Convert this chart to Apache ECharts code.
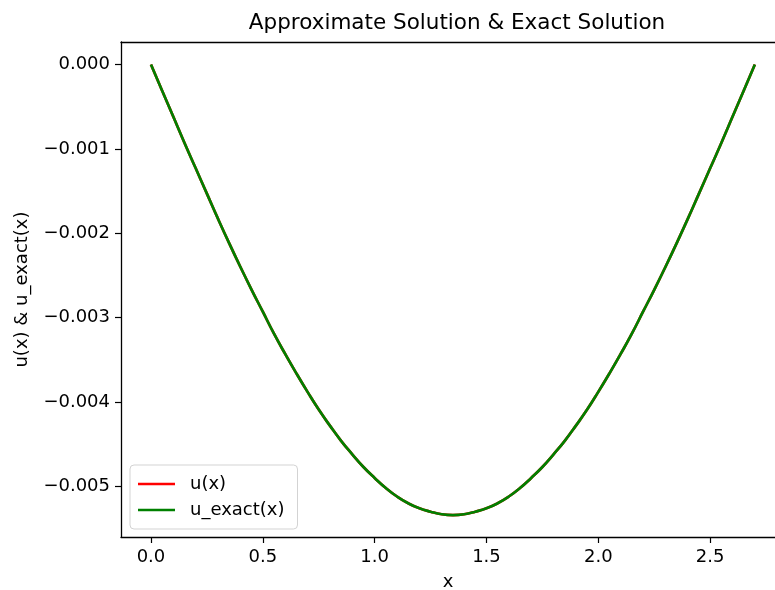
<!DOCTYPE html>
<html>
<head>
<meta charset="utf-8">
<script src="https://cdn.jsdelivr.net/npm/echarts@6/dist/echarts.min.js"></script>
<style>html,body{margin:0;padding:0;background:#fff;}#c{width:775px;height:590px;}</style>
</head>
<body>
<div id="c"></div>
<script>
var xs = [0.0,0.05,0.1,0.15,0.2,0.25,0.3,0.35,0.4,0.45,0.5,0.55,0.6,0.65,0.7,0.75,0.8,0.85,0.9,0.95,1.0,1.05,1.1,1.15,1.2,1.25,1.3,1.35,1.4,1.45,1.5,1.55,1.6,1.65,1.7,1.75,1.8,1.85,1.9,1.95,2.0,2.05,2.1,2.15,2.2,2.25,2.3,2.35,2.4,2.45,2.5,2.55,2.6,2.65,2.7];
var uApprox = [0,-0.00031,-0.00062,-0.00093,-0.00123,-0.00153,-0.00183,-0.00212,-0.00240,-0.00267,-0.00293,-0.00319,-0.00343,-0.00366,-0.00388,-0.00409,-0.00428,-0.00446,-0.00462,-0.00477,-0.00490,-0.00502,-0.00512,-0.00520,-0.00526,-0.00530,-0.00533,-0.00534,-0.00533,-0.00530,-0.00526,-0.00520,-0.00512,-0.00502,-0.00490,-0.00477,-0.00462,-0.00446,-0.00428,-0.00409,-0.00388,-0.00366,-0.00343,-0.00319,-0.00293,-0.00267,-0.00240,-0.00212,-0.00183,-0.00153,-0.00123,-0.00093,-0.00062,-0.00031,0];
var uExact = [0,-0.00031,-0.00062,-0.00093,-0.00123,-0.00153,-0.00183,-0.00212,-0.00240,-0.00267,-0.00293,-0.00319,-0.00343,-0.00366,-0.00388,-0.00409,-0.00428,-0.00446,-0.00462,-0.00477,-0.00490,-0.00502,-0.00512,-0.00520,-0.00526,-0.00530,-0.00533,-0.00534,-0.00533,-0.00530,-0.00526,-0.00520,-0.00512,-0.00502,-0.00490,-0.00477,-0.00462,-0.00446,-0.00428,-0.00409,-0.00388,-0.00366,-0.00343,-0.00319,-0.00293,-0.00267,-0.00240,-0.00212,-0.00183,-0.00153,-0.00123,-0.00093,-0.00062,-0.00031,0];
var xTicks = [0,0.5,1.0,1.5,2.0,2.5];
var yTicks = [0,-0.001,-0.002,-0.003,-0.004,-0.005];
var titleText = 'Approximate Solution & Exact Solution';
var seriesNames = ['u(x)','u_exact(x)'];

function pairs(a){ return xs.map(function(x,i){ return [x,a[i]]; }); }
var font = 'DejaVu Sans';
var XMIN = -0.134, XMAX = 2.79;
var chart = echarts.init(document.getElementById('c'), null, {renderer:'canvas'});
chart.setOption({
  animation:false,
  backgroundColor:'#fff',
  title:{text:titleText,left:452,top:7,textAlign:'center',
    textStyle:{fontFamily:font,fontSize:21.5,fontWeight:'normal',color:'#000'}},
  grid:{left:121,top:42,right:0,bottom:53,show:false,containLabel:false,outerBoundsMode:'none'},
  legend:{orient:'vertical',left:130,top:465,data:seriesNames,
    padding:[10,13,10,8],itemGap:8,itemWidth:37,itemHeight:18,
    icon:'path://M0,0 L37,0 L37,2.7 L0,2.7 Z',
    backgroundColor:'#fff',borderColor:'#d3d3d3',borderWidth:1,borderRadius:4,
    textStyle:{fontFamily:font,fontSize:18,color:'#000',padding:[0,0,0,10]}},
  xAxis:[{type:'value',min:XMIN,max:XMAX,position:'bottom',
    name:'x',nameLocation:'middle',nameGap:36,
    nameTextStyle:{fontFamily:font,fontSize:18,color:'#000'},
    axisLine:{show:true,onZero:false,lineStyle:{color:'#000',width:1.3}},
    axisTick:{show:true,length:6,inside:false,customValues:xTicks,lineStyle:{color:'#000',width:1.2}},
    axisLabel:{show:true,customValues:xTicks,margin:11,fontFamily:font,fontSize:18,color:'#000',
      formatter:function(v){return v.toFixed(1);}},
    splitLine:{show:false}},
   {type:'value',min:XMIN,max:XMAX,position:'top',
    axisLine:{show:true,onZero:false,lineStyle:{color:'#000',width:1.3}},
    axisTick:{show:false},axisLabel:{show:false},splitLine:{show:false}}],
  yAxis:{type:'value',min:-0.0056,max:0.000267,
    name:'u(x) & u_exact(x)',nameLocation:'middle',nameGap:90,nameRotate:90,
    nameTextStyle:{fontFamily:font,fontSize:18,color:'#000'},
    axisLine:{show:true,onZero:false,lineStyle:{color:'#000',width:1.3}},
    axisTick:{show:true,length:6,inside:false,customValues:yTicks,lineStyle:{color:'#000',width:1.2}},
    axisLabel:{show:true,customValues:yTicks,margin:11,fontFamily:font,fontSize:18,color:'#000',
      formatter:function(v){var s=Math.abs(v).toFixed(3);return (v<-1e-12?'\u2212':'')+s;}},
    splitLine:{show:false}},
  series:[
    {name:seriesNames[0],type:'line',xAxisIndex:0,data:pairs(uApprox),showSymbol:false,smooth:true,
      lineStyle:{color:'#ff0000',width:2.7},itemStyle:{color:'#ff0000'},z:2},
    {name:seriesNames[1],type:'line',xAxisIndex:0,data:pairs(uExact),showSymbol:false,smooth:true,
      lineStyle:{color:'#008000',width:2.7},itemStyle:{color:'#008000'},z:3}
  ]
});
</script>
</body>
</html>
